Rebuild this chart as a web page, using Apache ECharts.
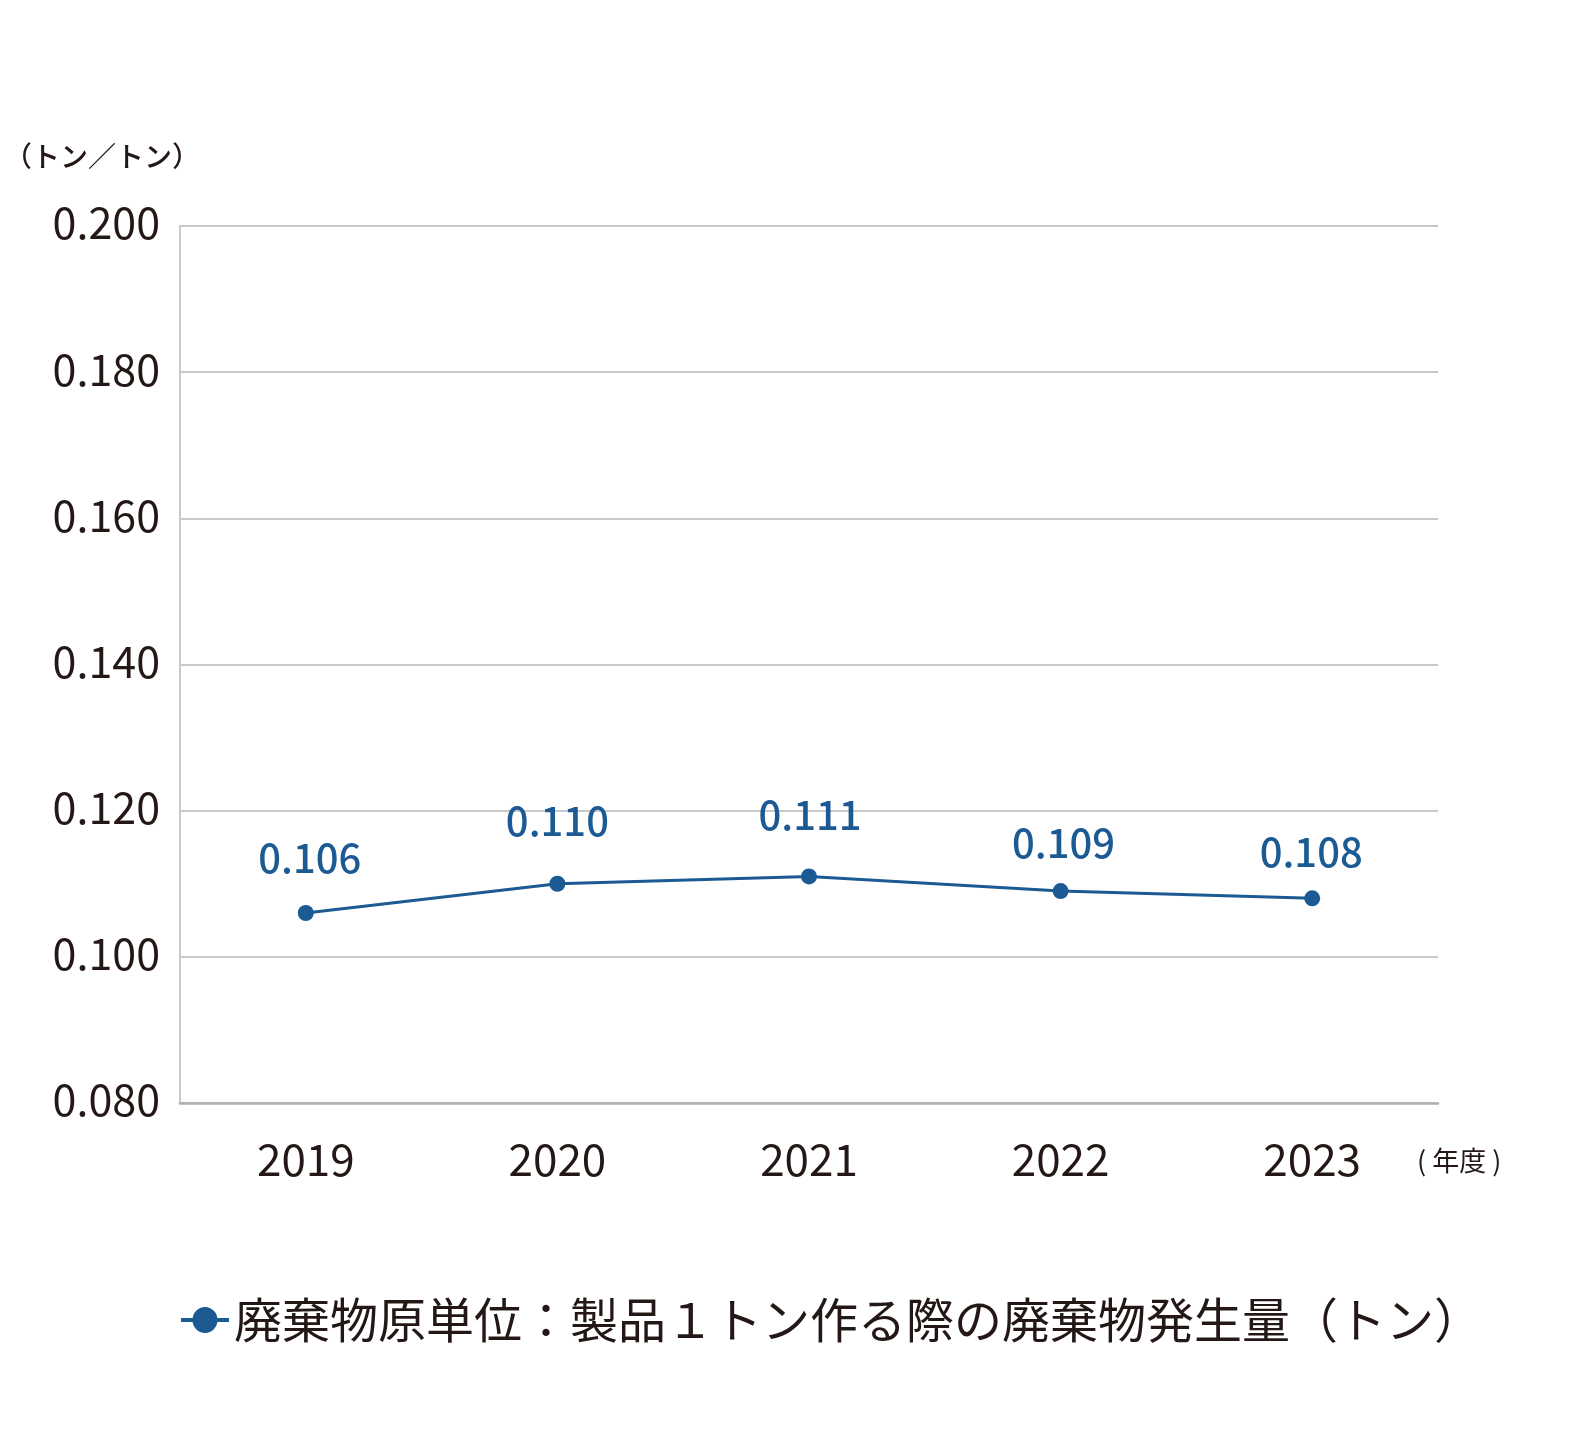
<!DOCTYPE html>
<html>
<head>
<meta charset="utf-8">
<script src="https://cdn.jsdelivr.net/npm/echarts@6/dist/echarts.min.js"></script>
<style>
  html, body { margin: 0; padding: 0; background: #fff; }
  #chart { width: 1590px; height: 1440px; }
</style>
</head>
<body>
<div id="chart"></div>
<script>
var years = ['2019', '2020', '2021', '2022', '2023']
var wasteRate = [0.106, 0.110, 0.111, 0.109, 0.108]
var seriesName = '廃棄物原単位：製品１トン作る際の廃棄物発生量（トン）'
var yMin = 0.08
var yMax = 0.2
var yStep = 0.02

// label placement per point (the original places them by hand)
var labelGap = [27, 35, 34, 20, 19]
var labelShift = [4, 0, 1, 3, -1]

var font = '"Noto Sans CJK JP", "Noto Sans", sans-serif'
var textColor = '#231815'
var lineColor = '#1b5a93'
var gridColor = '#c9c9c9'

var chart = echarts.init(document.getElementById('chart'))

chart.setOption({
  backgroundColor: '#fff',
  animation: false,
  textStyle: { fontFamily: font },
  grid: { left: 180, right: 152, top: 226, bottom: 337 },
  xAxis: {
    type: 'category',
    data: years,
    boundaryGap: true,
    axisLine: { show: true, lineStyle: { color: '#b0b0b0', width: 2.5 } },
    axisTick: { show: false },
    axisLabel: { color: textColor, fontSize: 44, margin: 34, fontFamily: font }
  },
  yAxis: {
    type: 'value',
    min: yMin,
    max: yMax,
    interval: yStep,
    axisLine: { show: true, lineStyle: { color: gridColor, width: 2 } },
    axisTick: { show: false },
    axisLabel: {
      color: textColor,
      fontSize: 43,
      margin: 20,
      verticalAlign: 'bottom',
      lineHeight: 6,
      fontFamily: font,
      formatter: function (v) { return v.toFixed(3) }
    },
    splitLine: { lineStyle: { color: gridColor, width: 2 } }
  },
  legend: {
    left: 176,
    top: 1291,
    itemWidth: 48,
    itemHeight: 26,
    icon: 'path://M0,11H12V15H0Z M36,11H48V15H36Z M11.5,13A12.5,13 0 1,1 36.5,13A12.5,13 0 1,1 11.5,13Z',
    textStyle: { color: textColor, fontSize: 48, fontFamily: font },
    data: [seriesName]
  },
  graphic: [
    {
      type: 'text',
      left: 4,
      top: 142,
      style: { text: '（トン／トン）', fill: textColor, font: '500 28px ' + font }
    },
    {
      type: 'text',
      left: 1417,
      top: 1147,
      style: { text: '( 年度 )', fill: textColor, font: '27px ' + font }
    }
  ],
  series: [{
    name: seriesName,
    type: 'line',
    data: wasteRate.map(function (v, i) {
      return { value: v, label: { distance: labelGap[i], offset: [labelShift[i], 0] } }
    }),
    symbol: 'circle',
    symbolSize: 16,
    lineStyle: { color: lineColor, width: 3 },
    itemStyle: { color: lineColor },
    label: {
      show: true,
      position: 'top',
      color: lineColor,
      fontSize: 40,
      fontWeight: 500,
      fontFamily: font,
      formatter: function (p) { return p.value.toFixed(3) }
    }
  }]
})
</script>
</body>
</html>
